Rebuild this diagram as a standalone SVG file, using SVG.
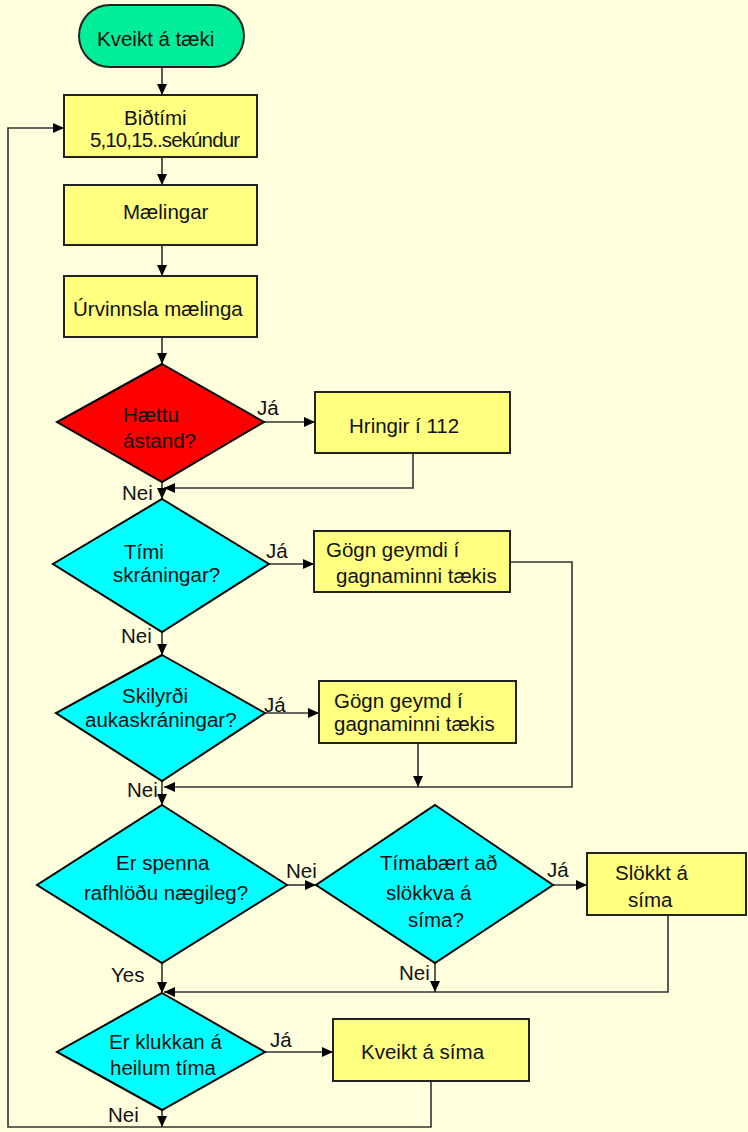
<svg xmlns="http://www.w3.org/2000/svg" width="748" height="1132" viewBox="0 0 748 1132">
<defs>
<marker id="ah" markerUnits="userSpaceOnUse" markerWidth="12" markerHeight="10" refX="11" refY="5" orient="auto">
<path d="M0,0 L11,5 L0,10 Z" fill="#000"/>
</marker>
<style>
.bg{fill:#FFFFDD}
.box{fill:#FFFF80;stroke:#222;stroke-width:2}
.dia{fill:#00FFFF;stroke:#000;stroke-width:2}
.red{fill:#FF0000;stroke:#000;stroke-width:2}
.term{fill:#00EE99;stroke:#222;stroke-width:2}
.c{fill:none;stroke:#333;stroke-width:1.6}
.ca{fill:none;stroke:#333;stroke-width:1.6;marker-end:url(#ah)}
text{font-family:"Liberation Sans",Arial,sans-serif;font-size:20.5px;fill:#111}
</style>
</defs>
<rect class="bg" x="0" y="0" width="748" height="1132"/>
<g id="connectors">
<line class="ca" x1="162" y1="67" x2="162" y2="95"/>
<line class="ca" x1="162" y1="157" x2="162" y2="185"/>
<line class="ca" x1="162" y1="245" x2="162" y2="276"/>
<line class="ca" x1="162" y1="337" x2="162" y2="364"/>
<line class="ca" x1="264" y1="422" x2="315" y2="422"/>
<polyline class="ca" points="413,453 413,488 164,488"/>
<line class="ca" x1="162" y1="482" x2="162" y2="499"/>
<line class="ca" x1="269" y1="564" x2="314" y2="564"/>
<polyline class="ca" points="510,562 572,562 572,787 164,787"/>
<line class="ca" x1="162" y1="632" x2="162" y2="655"/>
<line class="ca" x1="265" y1="713" x2="319" y2="713"/>
<line class="ca" x1="418" y1="743" x2="418" y2="787"/>
<line class="ca" x1="162" y1="781" x2="162" y2="805"/>
<line class="ca" x1="287" y1="885" x2="316" y2="885"/>
<line class="ca" x1="553" y1="885" x2="587" y2="885"/>
<polyline class="ca" points="668,915 668,992 164,992"/>
<line class="ca" x1="435" y1="963" x2="435" y2="992"/>
<line class="ca" x1="162" y1="963" x2="162" y2="993"/>
<line class="ca" x1="265" y1="1052" x2="333" y2="1052"/>
<line class="ca" x1="162" y1="1110" x2="162" y2="1127"/>
<polyline class="ca" points="431,1081 431,1127 8,1127 8,128 64,128"/>
<text x="257" y="415">Já</text>
<text x="122" y="500">Nei</text>
<text x="266" y="558">Já</text>
<text x="121" y="643">Nei</text>
<text x="264" y="712">Já</text>
<text x="127" y="797">Nei</text>
<text x="286" y="878">Nei</text>
<text x="547" y="877">Já</text>
<text x="111" y="982">Yes</text>
<text x="399" y="980">Nei</text>
<text x="270" y="1047">Já</text>
<text x="108" y="1122">Nei</text>
</g>
<g id="start">
<rect class="term" x="79" y="5" width="165" height="62" rx="31" ry="31"/>
<text x="97" y="46">Kveikt á tæki</text>
</g>
<g id="bidtimi">
<rect class="box" x="64" y="95" width="193" height="62"/>
<text x="124" y="125">Biðtími</text>
<text x="90" y="147" textLength="150">5,10,15..sekúndur</text>
</g>
<g id="maelingar">
<rect class="box" x="64" y="185" width="193" height="60"/>
<text x="123" y="219">Mælingar</text>
</g>
<g id="urvinnsla">
<rect class="box" x="64" y="276" width="193" height="61"/>
<text x="73" y="316">Úrvinnsla mælinga</text>
</g>
<g id="haettuastand">
<polygon class="red" points="162,364 264,422 162,482 57,422"/>
<text x="123" y="422">Hættu</text>
<text x="123" y="448">ástand?</text>
</g>
<g id="hringir">
<rect class="box" x="315" y="392" width="195" height="61"/>
<text x="349" y="433">Hringir í 112</text>
</g>
<g id="timi">
<polygon class="dia" points="162,499 269,564 162,632 53,564"/>
<text x="124" y="559">Tími</text>
<text x="113" y="582">skráningar?</text>
</g>
<g id="gogn1">
<rect class="box" x="314" y="531" width="196" height="61"/>
<text x="326" y="557">Gögn geymdi í</text>
<text x="336" y="583">gagnaminni tækis</text>
</g>
<g id="skilyrdi">
<polygon class="dia" points="162,655 265,713 162,781 56,713"/>
<text x="122" y="703">Skilyrði</text>
<text x="85" y="727">aukaskráningar?</text>
</g>
<g id="gogn2">
<rect class="box" x="319" y="681" width="197" height="62"/>
<text x="334" y="708">Gögn geymd í</text>
<text x="334" y="731">gagnaminni tækis</text>
</g>
<g id="spenna">
<polygon class="dia" points="162,805 287,885 162,963 37,885"/>
<text x="116" y="870">Er spenna</text>
<text x="84" y="900">rafhlöðu nægileg?</text>
</g>
<g id="timabaert">
<polygon class="dia" points="435,805 553,885 435,963 316,885"/>
<text x="380" y="870">Tímabært að</text>
<text x="386" y="900">slökkva á</text>
<text x="408" y="927">síma?</text>
</g>
<g id="slokkt">
<rect class="box" x="587" y="853" width="159" height="62"/>
<text x="615" y="880">Slökkt á</text>
<text x="628" y="907">síma</text>
</g>
<g id="klukkan">
<polygon class="dia" points="162,993 265,1052 162,1110 57,1052"/>
<text x="109" y="1049">Er klukkan á</text>
<text x="110" y="1075">heilum tíma</text>
</g>
<g id="kveiktsima">
<rect class="box" x="333" y="1019" width="196" height="62"/>
<text x="361" y="1059">Kveikt á síma</text>
</g>
</svg>
